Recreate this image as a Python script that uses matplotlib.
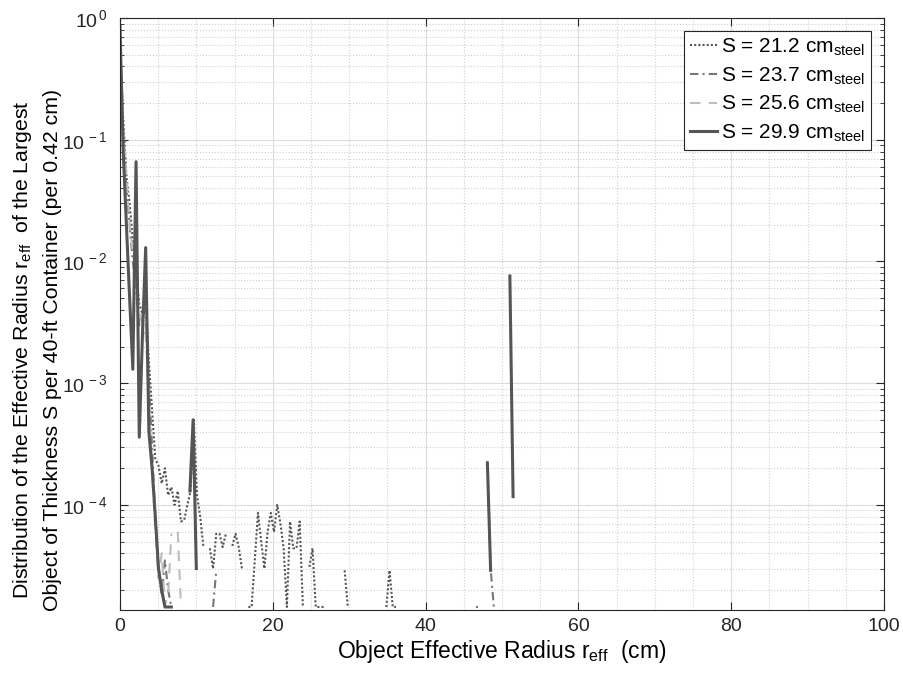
import numpy as np
import matplotlib
matplotlib.use('Agg')
import matplotlib.pyplot as plt
from matplotlib.ticker import FixedLocator, FuncFormatter, MultipleLocator

plt.rcParams['font.family'] = ['Liberation Sans', 'DejaVu Sans']
plt.rcParams['mathtext.fontset'] = 'custom'
plt.rcParams['mathtext.rm'] = 'Liberation Sans'
plt.rcParams['mathtext.it'] = 'Liberation Sans:italic'
plt.rcParams['mathtext.bf'] = 'Liberation Sans:bold'

nan = np.nan
floor = 1.45e-5   # lowest non-zero bin (one count)

''' S = 21.2 cm steel (dotted) '''
r_212 = [0.00, 0.42, 0.84, 1.26, 1.68, 2.10, 2.52, 2.94, 3.36, 3.78, 4.20, 4.62, 5.04, 5.46,
         5.88, 6.30, 6.72, 7.14, 7.56, 7.98, 8.40, 8.82, 9.24, 9.66, 10.08, 10.50, 10.92, nan,
         11.76, 12.18, 12.60, 13.02, 13.44, 13.86, nan,
         14.70, 15.12, 15.54, 15.96, nan,
         16.80, 17.22, 17.64, 18.06, 18.48, 18.90, 19.32, 19.74, 20.16, 20.58, 21.00, 21.42,
         21.84, 22.26, 22.68, 23.10, 23.52, 23.94, nan,
         24.78, 25.20, 25.62, 26.04, 26.46, 26.88, nan,
         29.40, 29.82, nan,
         34.86, 35.28, 35.70, 36.12, nan,
         46.62, 46.83]
p_212 = [0.6, 0.15, 0.05, 0.03, 0.015, 0.008, 0.0045, 0.0037, 0.005, 0.0015, 0.0006, 0.00024, 0.00021, 0.00015,
         0.0002, 0.00012, 0.00014, 0.0001, 0.00013, 7.3e-5, 7.5e-5, 0.0001, 0.00013, 0.0005, 0.00012, 8e-5, 4.5e-5, nan,
         4.4e-5, 3e-5, 5.8e-5, 5.8e-5, 4.5e-5, 5.8e-5, nan,
         4.6e-5, 5.8e-5, 4.5e-5, 3e-5, nan,
         floor, floor, 3.5e-5, 8.6e-5, 5e-5, 3e-5, 6e-5, 8.6e-5, 6e-5, 1e-4, 7e-5, 4.4e-5,
         floor, 7.3e-5, 4.4e-5, 4.4e-5, 7.3e-5, floor, nan,
         3.1e-5, 4.4e-5, floor, floor, floor, floor, nan,
         2.9e-5, floor, nan,
         floor, 2.9e-5, floor, floor, nan,
         floor, floor]

''' S = 23.7 cm steel (dash-dot) '''
r_237 = [0.00, 0.42, 0.84, 1.26, 1.68, 2.10, 2.52, 2.94, 3.36, 3.78, 4.20, 4.62, 5.04, 5.46,
         5.88, 6.30, 6.72, nan,
         12.18, 12.60, nan,
         48.09, 48.51, 48.93]
p_237 = [0.7, 0.1, 0.04, 0.02, 0.01, 0.006, 0.003, 0.0035, 0.004, 0.001, 0.0003, 8e-5, 3e-5, 1.8e-5,
         3.5e-5, 2e-5, floor, nan,
         floor, 2.9e-5, nan,
         2.3e-4, 3e-5, floor]

''' S = 25.6 cm steel (dashed) '''
r_256 = [0.00, 0.42, 0.84, 1.26, 1.68, 2.10, 2.52, 2.94, 3.36, 3.78, 4.20, 4.62, 5.04, 5.46,
         5.88, 6.30, 6.72, nan, 7.56, 7.98]
p_256 = [0.75, 0.12, 0.05, 0.02, 0.012, 0.007, 0.004, 0.003, 0.0025, 0.0008, 0.0002, 6e-5, 2.5e-5, 4e-5,
         1.5e-5, 1.8e-5, 5.8e-5, nan, 6e-5, floor]

''' S = 29.9 cm steel (solid) '''
r_299 = [0.00, 0.42, 0.84, 1.26, 1.68, 2.10, 2.52, 2.94, 3.36, 3.78, 4.20, 4.62, 5.04, 5.46,
         5.88, 6.30, 6.72, nan,
         9.15, 9.57, 9.99, nan,
         48.09, 48.51, nan,
         51.03, 51.45]
p_299 = [0.85, 0.08, 0.02, 0.005, 0.0013, 0.066, 0.00036, 0.0025, 0.013, 0.0004, 0.0002, 8e-5, 3e-5, 2e-5,
         floor, floor, floor, nan,
         0.00013, 0.0005, 3e-5, nan,
         2.2e-4, 2.9e-5, nan,
         7.6e-3, 1.17e-4]

labels = [r'S = 21.2 cm$_{\rm steel}$', r'S = 23.7 cm$_{\rm steel}$',
          r'S = 25.6 cm$_{\rm steel}$', r'S = 29.9 cm$_{\rm steel}$']

fig = plt.figure(figsize=(9.04, 6.78), dpi=100)
ax = fig.add_axes([120 / 904, 68 / 678, 764 / 904, 592 / 678])

ax.plot(r_212, p_212, linestyle=(0, (1, 1)), color='#555555', linewidth=1.5, label=labels[0])
ax.plot(r_237, p_237, linestyle=(0, (4, 2, 1, 2)), color='#777777', linewidth=1.5, label=labels[1])
ax.plot(r_256, p_256, linestyle=(0, (5, 4)), color='#bdbdbd', linewidth=1.5, label=labels[2])
ax.plot(r_299, p_299, linestyle='-', color='#555555', linewidth=2.2, label=labels[3])

ax.set_yscale('log')
ax.set_xlim(0, 100)
ax.set_ylim(1.37e-5, 1)

ax.xaxis.set_major_locator(MultipleLocator(20))
ax.xaxis.set_minor_locator(MultipleLocator(5))
ax.yaxis.set_major_locator(FixedLocator([1e-4, 1e-3, 1e-2, 1e-1, 1]))
minors = [m * 10.0 ** e for e in range(-5, 0) for m in range(2, 10)]
ax.yaxis.set_minor_locator(FixedLocator(minors))
ax.yaxis.set_major_formatter(FuncFormatter(lambda v, pos: r'$10^{\,%d}$' % int(round(np.log10(v)))))

ax.grid(True, which='major', color='#dcdcdc', linestyle='-', linewidth=0.8)
ax.grid(True, which='minor', color='#d0d0d0', linestyle=':', linewidth=0.8)
ax.set_axisbelow(True)

ax.tick_params(which='both', direction='in', top=True, right=True, colors='#262626')
ax.tick_params(axis='x', labelsize=14, pad=6)
ax.tick_params(axis='y', labelsize=14, pad=9)
ax.tick_params(which='major', length=6)
ax.tick_params(which='minor', length=3)
ax.tick_params(axis='x', which='minor', length=0)
for sp in ax.spines.values():
    sp.set_color('#262626')
    sp.set_linewidth(0.8)

ax.set_xlabel(r'Object Effective Radius r$_{\rm eff}$  (cm)', fontsize=16.5, labelpad=2)
ax.set_ylabel('Distribution of the Effective Radius r$_{\\rm eff}$  of the Largest\n'
              'Object of Thickness S per 40-ft Container (per 0.42 cm)', fontsize=15.3,
              linespacing=1.6)
ax.yaxis.set_label_coords(-0.076, 0.44)

leg = ax.legend(loc='upper right', fontsize=15, fancybox=False, framealpha=1,
                edgecolor='#262626', handlelength=1.3, handletextpad=0.2,
                borderaxespad=0.6, borderpad=0.3, labelspacing=0.35)
leg.get_frame().set_linewidth(0.8)

fig.savefig('out.png', dpi=100)
